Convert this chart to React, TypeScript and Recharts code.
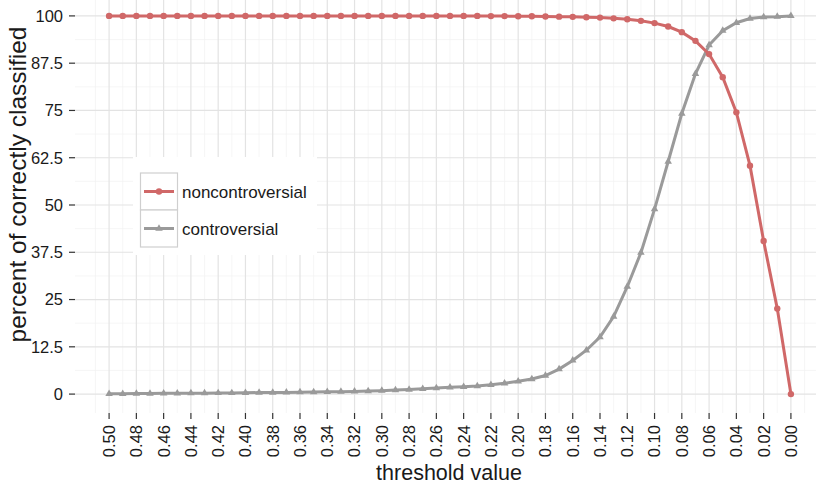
import React from 'react';
import { LineChart, Line, XAxis, YAxis, CartesianGrid, Legend, Label } from 'recharts';

const thresholds = [
  0.5, 0.49, 0.48, 0.47, 0.46, 0.45, 0.44, 0.43, 0.42, 0.41,
  0.4, 0.39, 0.38, 0.37, 0.36, 0.35, 0.34, 0.33, 0.32, 0.31,
  0.3, 0.29, 0.28, 0.27, 0.26, 0.25, 0.24, 0.23, 0.22, 0.21,
  0.2, 0.19, 0.18, 0.17, 0.16, 0.15, 0.14, 0.13, 0.12, 0.11,
  0.1, 0.09, 0.08, 0.07, 0.06, 0.05, 0.04, 0.03, 0.02, 0.01, 0.0,
];

const noncontroversial = [
  100, 100, 100, 100, 100, 100, 100, 100, 100, 100,
  100, 100, 100, 100, 100, 100, 100, 100, 100, 100,
  100, 100, 100, 100, 100, 100, 100, 100, 99.95, 99.95,
  99.9, 99.9, 99.85, 99.8, 99.75, 99.65, 99.55, 99.35, 99.1, 98.7,
  98.1, 97.2, 95.7, 93.4, 89.9, 83.8, 74.5, 60.4, 40.5, 22.6, 0,
];

const controversial = [
  0.1, 0.1, 0.15, 0.15, 0.2, 0.2, 0.25, 0.25, 0.3, 0.3,
  0.35, 0.4, 0.4, 0.45, 0.5, 0.55, 0.6, 0.65, 0.7, 0.8,
  0.9, 1.05, 1.2, 1.4, 1.6, 1.8, 1.95, 2.15, 2.45, 2.85,
  3.4, 4.0, 4.9, 6.6, 8.9, 11.6, 15.1, 20.5, 28.4, 37.4,
  48.9, 61.5, 74.2, 84.7, 92.3, 96.1, 98.2, 99.3, 99.7, 99.8, 100,
];

const xTicks = [
  0.5, 0.48, 0.46, 0.44, 0.42, 0.4, 0.38, 0.36, 0.34, 0.32, 0.3, 0.28, 0.26,
  0.24, 0.22, 0.2, 0.18, 0.16, 0.14, 0.12, 0.1, 0.08, 0.06, 0.04, 0.02, 0.0,
];
const xMinor = [
  0.51, 0.49, 0.47, 0.45, 0.43, 0.41, 0.39, 0.37, 0.35, 0.33, 0.31, 0.29, 0.27,
  0.25, 0.23, 0.21, 0.19, 0.17, 0.15, 0.13, 0.11, 0.09, 0.07, 0.05, 0.03, 0.01, -0.01,
];
const yTicks = [0, 12.5, 25, 37.5, 50, 62.5, 75, 87.5, 100];
const yMinor = [6.25, 18.75, 31.25, 43.75, 56.25, 68.75, 81.25, 93.75];

const seriesNames = ['noncontroversial', 'controversial'];

const data = thresholds.map((t, i) => ({
  threshold: t,
  noncontroversial: noncontroversial[i],
  controversial: controversial[i],
}));

const RED = '#d06868';
const GREY = '#9a9a9a';
const FONT = '"Liberation Sans", Arial, Helvetica, sans-serif';
const TEXT = '#1a1a1a';

const triPath = (cx: number, cy: number, s = 7.5) => {
  const h = (s * Math.sqrt(3)) / 2;
  return `M${cx},${cy - (2 * h) / 3}L${cx + s / 2},${cy + h / 3}L${cx - s / 2},${cy + h / 3}Z`;
};

const TriangleDot = (props: any) => {
  const { cx, cy, index } = props;
  if (cx == null || cy == null) return <g key={`t-${index}`} />;
  return <path key={`t-${index}`} d={triPath(cx, cy)} fill={GREY} />;
};

const XTick = (props: any) => {
  const { x, y, payload } = props;
  return (
    <text
      x={x}
      y={y}
      transform={`rotate(-90 ${x} ${y})`}
      textAnchor="end"
      dy="0.36em"
      fontSize={16.5}
      fontFamily={FONT}
      fill={TEXT}
    >
      {Number(payload.value).toFixed(2)}
    </text>
  );
};

const renderLegend = () => (
  <div
    style={{
      width: 184,
      height: 98,
      background: '#ffffff',
      position: 'relative',
      fontFamily: FONT,
    }}
  >
    <svg width={184} height={98} style={{ position: 'absolute', left: 0, top: 0 }}>
      <rect x={7.5} y={16} width={37} height={37} fill="#fff" stroke="#cfcfcf" strokeWidth={1.2} />
      <rect x={7.5} y={53} width={37} height={37} fill="#fff" stroke="#cfcfcf" strokeWidth={1.2} />
      <line x1={11} x2={41} y1={34.5} y2={34.5} stroke={RED} strokeWidth={3} />
      <circle cx={26} cy={34.5} r={3.2} fill={RED} />
      <line x1={11} x2={41} y1={71.5} y2={71.5} stroke={GREY} strokeWidth={3} />
      <path d={triPath(26, 71.5)} fill={GREY} />
      <text x={49} y={34.5} dy="0.36em" fontSize={17} fill={TEXT} fontFamily={FONT}>
        {seriesNames[0]}
      </text>
      <text x={49} y={71.5} dy="0.36em" fontSize={17} fill={TEXT} fontFamily={FONT}>
        {seriesNames[1]}
      </text>
    </svg>
  </div>
);

export default function App() {
  return (
    <div
      style={{
        position: 'absolute',
        left: 0,
        top: 0,
        width: 816,
        height: 485,
        overflow: 'hidden',
        background: '#ffffff',
      }}
    >
      <div style={{ position: 'absolute', left: 0, top: -3 }}>
        <LineChart
          width={830}
          height={488}
          data={data}
          margin={{ top: 0, right: 5, bottom: 0, left: 0 }}
        >
          <CartesianGrid
            verticalValues={xMinor}
            horizontalValues={yMinor}
            stroke="#f2f2f2"
            strokeWidth={0.7}
          />
          <CartesianGrid
            verticalValues={xTicks}
            horizontalValues={yTicks}
            stroke="#e3e3e3"
            strokeWidth={1.2}
          />
          <XAxis
            dataKey="threshold"
            type="number"
            domain={[-0.025, 0.525]}
            reversed
            allowDataOverflow
            ticks={xTicks}
            interval={0}
            tick={<XTick />}
            tickSize={6}
            tickMargin={6}
            tickLine={{ stroke: '#333', strokeWidth: 1.2 }}
            axisLine={false}
            height={72}
          >
            <Label
              content={(p: any) => {
                const vb = p.viewBox || { x: 75, y: 416, width: 750, height: 72 };
                return (
                  <text
                    x={vb.x + vb.width / 2 - 1}
                    y={vb.y + vb.height - 5}
                    textAnchor="middle"
                    fontSize={21.5}
                    fontFamily={FONT}
                    fill={TEXT}
                  >
                    threshold value
                  </text>
                );
              }}
            />
          </XAxis>
          <YAxis
            type="number"
            domain={[-5, 105]}
            ticks={yTicks}
            interval={0}
            width={75}
            tickSize={6}
            tickMargin={6}
            tickLine={{ stroke: '#333', strokeWidth: 1.2 }}
            axisLine={false}
            tick={{ fontSize: 16.5, fill: TEXT, fontFamily: FONT }}
            tickFormatter={(v: number) => String(v)}
          >
            <Label
              content={() => (
                <text
                  x={25.5}
                  y={187.5}
                  transform="rotate(-90 25.5 187.5)"
                  textAnchor="middle"
                  fontSize={24.5}
                  fontFamily={FONT}
                  fill={TEXT}
                >
                  percent of correctly classified
                </text>
              )}
            />
          </YAxis>
          <Legend
            layout="vertical"
            align="center"
            verticalAlign="middle"
            content={renderLegend}
            wrapperStyle={{ left: 133, top: 160, width: 184, height: 98 }}
          />
          <Line
            dataKey="controversial"
            name={seriesNames[1]}
            stroke={GREY}
            strokeWidth={3}
            dot={<TriangleDot />}
            activeDot={false}
            isAnimationActive={false}
          />
          <Line
            dataKey="noncontroversial"
            name={seriesNames[0]}
            stroke={RED}
            strokeWidth={3}
            dot={{ r: 3.2, fill: RED, stroke: 'none' }}
            activeDot={false}
            isAnimationActive={false}
          />
        </LineChart>
      </div>
    </div>
  );
}
